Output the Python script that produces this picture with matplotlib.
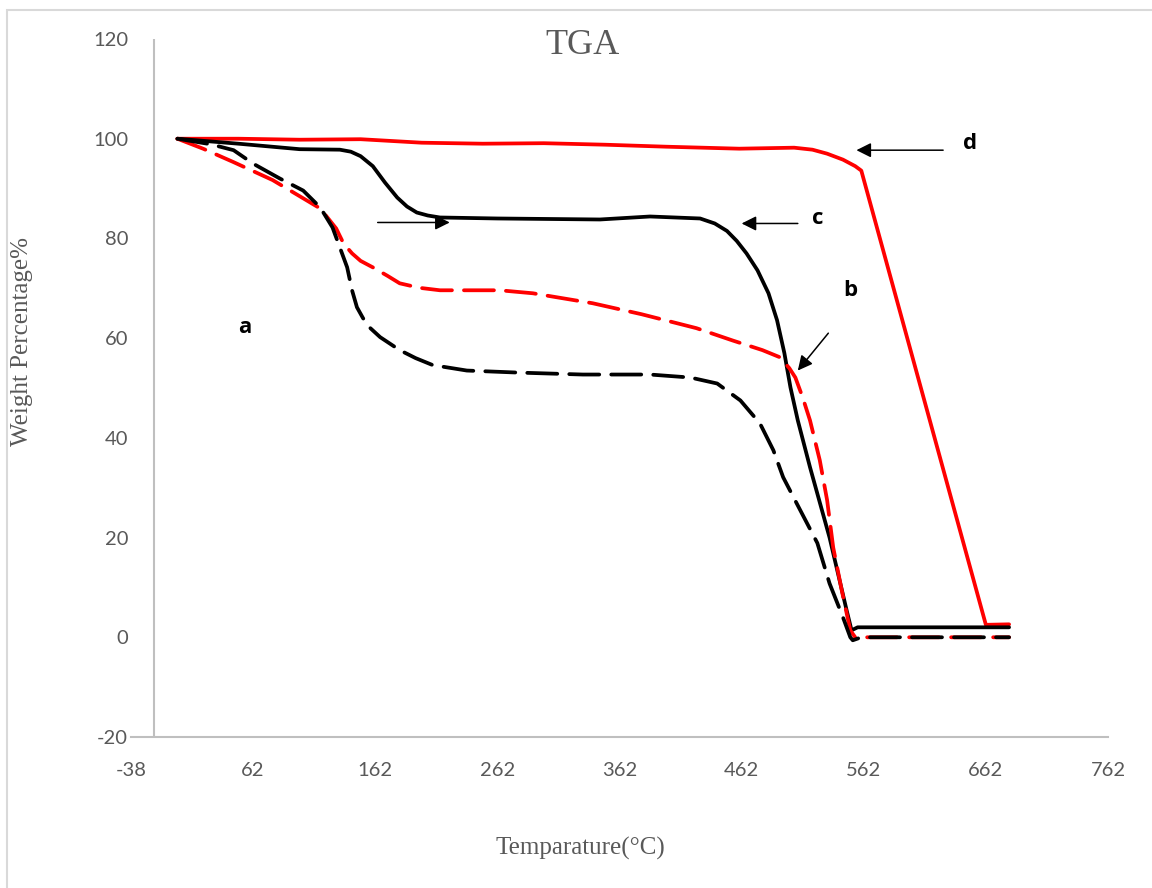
import matplotlib.pyplot as plt
from matplotlib.patches import Rectangle

plt.rcParams['axes.unicode_minus'] = False

# sample a (black dashed)
a_x = [0, 27, 46, 62, 84, 103, 117, 127, 133, 139, 143, 147, 152, 158, 166, 182, 195, 209, 237, 278, 332, 387, 420, 442, 461, 477, 488, 496, 507, 524, 534, 545, 551, 553, 560, 681]
a_y = [100, 98.9, 97.7, 95, 92, 89.6, 86.2, 82.2, 78.2, 74.2, 69.6, 66.2, 64, 62, 60.2, 57.6, 56, 54.6, 53.5, 53.1, 52.7, 52.7, 52.1, 50.9, 47.5, 42.9, 37.5, 32.1, 26.9, 18.9, 10.8, 4, 0, -0.6, 0, 0]

# sample b (red dashed)
b_x = [0, 21, 46, 78, 117, 130, 136, 143, 150, 160, 172, 182, 198, 215, 264, 291, 340, 380, 425, 455, 479, 493, 501, 506, 512, 518, 526, 532, 537, 544, 551, 555, 681]
b_y = [100, 98, 95.3, 91.7, 86, 82, 79, 77, 75.5, 74.2, 72.5, 71, 70.1, 69.6, 69.6, 69, 67, 64.8, 62, 59.5, 57.6, 56.2, 54, 52.1, 48.1, 43.5, 35.5, 27.5, 18, 9.4, 1.4, 0, 0]

# sample c (black solid)
c_x = [0, 50, 100, 133, 142, 150, 160, 170, 180, 188, 196, 205, 215, 262, 346, 387, 428, 440, 450, 458, 466, 475, 484, 491, 497, 502, 508, 518, 534, 548, 552, 557, 681]
c_y = [100, 99, 97.9, 97.8, 97.4, 96.5, 94.5, 91.2, 88.2, 86.4, 85.2, 84.6, 84.2, 84, 83.8, 84.4, 84, 83, 81.5, 79.5, 77, 73.6, 69, 63.6, 57, 50.1, 43.5, 34.1, 20, 5.4, 1.4, 2.0, 2.0]

# sample d (red solid)
d_x = [0, 50, 100, 150, 200, 250, 300, 350, 400, 460, 505, 520, 532, 545, 555, 560, 662, 681]
d_y = [100, 100, 99.8, 99.9, 99.2, 99.0, 99.1, 98.8, 98.4, 98.0, 98.2, 97.8, 97.0, 95.8, 94.5, 93.6, 2.5, 2.6]

x_ticks = [-38, 62, 162, 262, 362, 462, 562, 662, 762]
y_ticks = [-20, 0, 20, 40, 60, 80, 100, 120]

fig = plt.figure(figsize=(11.52, 8.88), dpi=100)
W, H = 1152, 888
fig.patches.append(Rectangle((7 / W, -0.1), 1.2, 1 - 10 / H + 0.1, transform=fig.transFigure,
                             fill=False, edgecolor='#d9d9d9', lw=1.5))

ax = fig.add_axes([131 / W, 1 - 737 / H, (1108 - 131) / W, (737 - 39) / H])
ax.set_xlim(-38, 762)
ax.set_ylim(-20, 120)

lw = 2.7
ax.plot(d_x, d_y, color='#ff0000', lw=lw, solid_capstyle='round', solid_joinstyle='round')
ax.plot(c_x, c_y, color='black', lw=lw, solid_capstyle='round', solid_joinstyle='round')
ax.plot(b_x, b_y, color='#ff0000', lw=lw, dashes=(8, 3.2), dash_capstyle='round', dash_joinstyle='round')
ax.plot(a_x, a_y, color='black', lw=lw, dashes=(8, 3.2), dash_capstyle='round', dash_joinstyle='round')

for s in ['top', 'right', 'left']:
    ax.spines[s].set_visible(False)
ax.spines['bottom'].set_color('#bfbfbf')
ax.spines['bottom'].set_linewidth(1.5)
ax.axvline(-19, color='#bfbfbf', lw=1.5)

ax.set_xticks(x_ticks)
ax.set_yticks(y_ticks)
ax.tick_params(length=0, labelsize=14.5, labelcolor='#595959')
ax.tick_params(axis='x', pad=18)
ax.tick_params(axis='y', pad=2)
for lab in ax.get_xticklabels() + ax.get_yticklabels():
    lab.set_family('Lato')

# arrows and labels
arr = dict(arrowstyle='-|>', color='black', lw=1.1, mutation_scale=22, shrinkA=0, shrinkB=0)
ax.annotate('', xy=(223, 83.2), xytext=(164, 83.2), arrowprops=arr)
ax.annotate('', xy=(462, 83.0), xytext=(508, 83.0), arrowprops=arr)
ax.annotate('', xy=(556, 97.7), xytext=(627, 97.7), arrowprops=arr)
ax.annotate('', xy=(508, 53.5), xytext=(533, 61.0), arrowprops=arr)

lab_kw = dict(fontsize=16, fontweight='bold', family='Open Sans', ha='center', va='center')
ax.text(55, 62.2, 'a', **lab_kw)
ax.text(551, 69.6, 'b', **lab_kw)
ax.text(524, 84.0, 'c', **lab_kw)
ax.text(649, 99.1, 'd', **lab_kw)

fig.text(583 / W, 1 - 46 / H, 'TGA', family='Liberation Serif', fontsize=26, color='#595959', ha='center', va='center')
fig.text(580 / W, 1 - 848 / H, 'Temparature(°C)', family='Liberation Serif', fontsize=18, color='#595959', ha='center', va='center')
fig.text(22 / W, 1 - 341 / H, 'Weight Percentage%', family='Liberation Serif', fontsize=18, color='#595959', ha='center', va='center', rotation=90)

fig.savefig('out.png', dpi=100)
